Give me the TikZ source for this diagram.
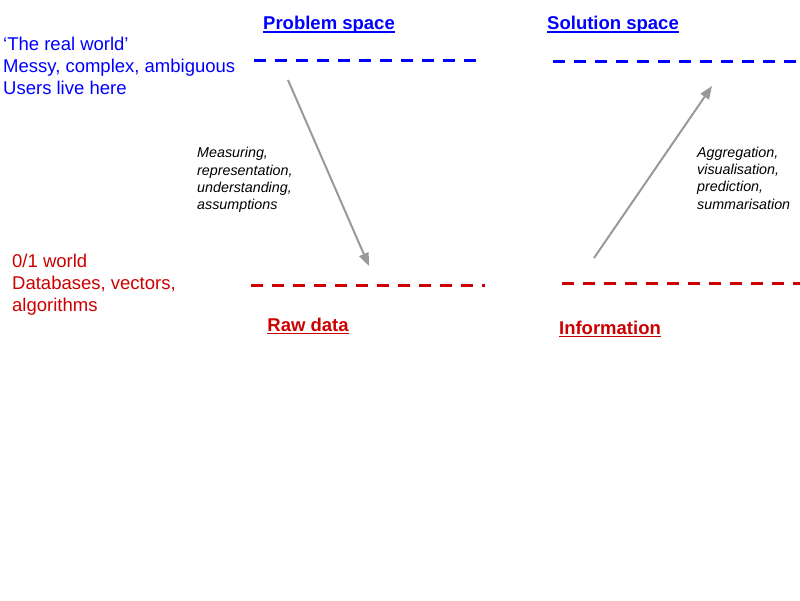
\documentclass[tikz,border=0pt]{standalone}
\usepackage{fontspec}
\setmainfont{Liberation Sans}
\usetikzlibrary{arrows.meta}
\definecolor{pblue}{HTML}{0000FF}
\definecolor{pred}{HTML}{CC0000}
\definecolor{agray}{HTML}{999999}
\newcommand\myul[1]{\setbox0\hbox{#1}\rlap{\raisebox{-3.2pt}{\rule{\wd0}{1.8pt}}}\box0}
\tikzset{
  bigtxt/.style={anchor=west, align=left, inner sep=0pt, font=\fontsize{18.5}{22}\selectfont},
  headtxt/.style={inner sep=0pt, font=\fontsize{18.5}{22}\selectfont\bfseries},
  smalltxt/.style={anchor=west, align=left, inner sep=0pt, font=\fontsize{14.3}{17.3}\selectfont\itshape},
  dashline/.style={line width=3pt, dash pattern=on 12pt off 9pt},
  flow/.style={agray, line width=2pt, -{Triangle[length=13pt,width=10pt]}}
}
\begin{document}
\begin{tikzpicture}[x=1pt,y=1pt]
\useasboundingbox (0,0) rectangle (800,-600);
% headings
\node[headtxt, pblue] (ps) at (329,-25) {\myul{Problem space}};
\node[headtxt, pblue] (ss) at (613,-25) {\myul{Solution space}};
\node[headtxt, pred] (rd) at (308,-326) {\myul{Raw data}};
\node[headtxt, pred] (inf) at (610,-329) {\myul{Information}};
% side texts
\node[bigtxt, pblue] (rw) at (3,-66) {‘The real world’\\Messy, complex, ambiguous\\Users live here};
\node[bigtxt, pred] (zw) at (12,-285) {0/1 world\\Databases, vectors,\\algorithms};
% dashed levels
\coordinate (pa) at (254,-60); \coordinate (pb) at (478,-60);
\coordinate (sa) at (553,-61); \coordinate (sb) at (800,-61);
\coordinate (ra) at (251,-285); \coordinate (rb) at (485,-285);
\coordinate (ia) at (562,-283); \coordinate (ib) at (800,-283);
\draw[dashline, pblue] (pa) -- (pb);
\draw[dashline, pblue] (sa) -- (sb);
\draw[dashline, pred] (ra) -- (rb);
\draw[dashline, pred] (ia) -- (ib);
% arrows
\coordinate (a1s) at (288,-80); \coordinate (a1e) at (369,-266);
\coordinate (a2s) at (594,-258); \coordinate (a2e) at (712,-86);
\draw[flow] (a1s) -- (a1e);
\draw[flow] (a2s) -- (a2e);
% labels
\node[smalltxt] (l1) at (197,-180) {Measuring,\\representation,\\understanding,\\assumptions};
\node[smalltxt] (l2) at (697,-178) {Aggregation,\\visualisation,\\prediction,\\summarisation};
\end{tikzpicture}
\end{document}
